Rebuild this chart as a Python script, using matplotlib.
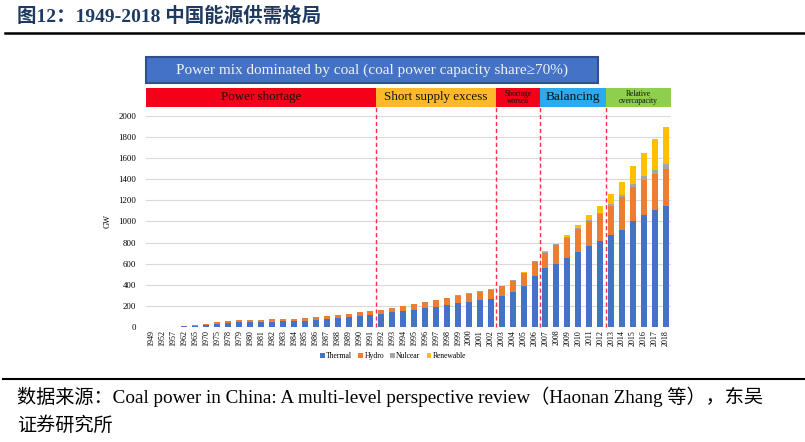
import matplotlib.pyplot as plt
from matplotlib.patches import Rectangle

plt.rcParams['font.family'] = ['Liberation Serif', 'Noto Sans CJK SC']

# ---------------------------------------------------------------- data (GW)
years = ['1949', '1952', '1957', '1962', '1965', '1970', '1975'] + [str(y) for y in range(1978, 2019)]

thermal = [1.69, 1.77, 3.62, 10.66, 12.06, 17.54, 30.98, 39.84, 43.11, 45.55, 47.24, 49.40,
           52.28, 54.52, 60.64, 66.28, 72.71, 82.80, 92.06, 101.84, 113.59, 124.30, 137.82,
           148.74, 162.94, 178.86, 192.41, 209.88, 223.43, 237.54, 253.01, 265.55, 289.77,
           329.48, 391.38, 484.05, 556.07, 601.32, 651.08, 709.67, 768.34, 819.68, 870.09,
           923.63, 1006.54, 1060.94, 1104.95, 1144.08]
hydro = [0.16, 0.19, 1.02, 2.38, 3.02, 6.24, 13.43, 17.28, 19.11, 20.32, 21.93, 22.96, 24.16,
         25.60, 26.41, 27.54, 30.19, 32.70, 34.58, 36.05, 37.88, 40.68, 44.59, 49.06, 52.18,
         55.58, 59.73, 65.07, 72.97, 79.35, 83.01, 86.07, 94.90, 105.24, 117.39, 130.29,
         148.23, 171.52, 196.29, 216.06, 232.98, 249.47, 280.44, 304.86, 319.54, 332.07,
         343.59, 352.26]
nuclear = [0] * 20 + [0.3, 0.3, 2.1] + [2.1] * 8 + [4.47, 6.19, 6.84, 6.85, 6.85, 8.85, 9.08,
           9.08, 10.82, 12.57, 12.57, 14.66, 20.08, 27.17, 33.64, 35.82, 44.66]
renewable = [0] * 29 + [0.34, 0.38, 0.47, 0.55, 0.83, 1.06, 2.07, 4.2, 8.39, 17.6, 29.58,
             49.3, 64.83, 92.41, 121.43, 172.93, 223.78, 294.25, 358.89]

series_names = ['Thermal', 'Hydro', 'Nulcear', 'Renewable']
series_colors = ['#4472C4', '#ED7D31', '#A5A5A5', '#FFC000']

# phases: (label, first year index - 0.5, last year index + 0.5, colour, font size)
phases = [('Power shortage', -0.5, 20.5, '#F40018', 9.4),
          ('Short supply excess', 20.5, 31.5, '#FDB92B', 9.4),
          ('Shortage\nworsen', 31.5, 35.5, '#F40018', 5.5),
          ('Balancing', 35.5, 41.5, '#2DA9EC', 9.6),
          ('Relative\novercapacity', 41.5, 47.5, '#8FCF4E', 5.5)]
phase_breaks = [20.5, 31.5, 35.5, 41.5]

# ---------------------------------------------------------------- figure
fig = plt.figure(figsize=(8.05, 4.42), dpi=100)
ax = fig.add_axes([0.1816, 0.2602, 0.6523, 0.4774])

x = list(range(len(years)))
bottom = [0] * len(years)
for vals, name, col in zip([thermal, hydro, nuclear, renewable], series_names, series_colors):
    ax.bar(x, vals, 0.55, bottom=bottom, color=col, label=name, zorder=3)
    bottom = [b + v for b, v in zip(bottom, vals)]

ax.set_xlim(-0.5, 47.5)
ax.set_ylim(0, 2000)
ax.set_yticks(range(0, 2001, 200))
ax.grid(axis='y', color='#D9D9D9', linewidth=0.8, zorder=0)
ax.set_xticks(x)
ax.set_xticklabels(years, rotation=90, fontsize=5.8)
ax.tick_params(axis='y', labelsize=6.3, length=0, pad=7)
ax.tick_params(axis='x', length=0, pad=2)
for s in ax.spines.values():
    s.set_visible(False)
ax.set_ylabel('GW', fontsize=6, labelpad=5)

# dashed phase boundaries
trans = ax.get_xaxis_transform()
for b in phase_breaks:
    ax.plot([b, b], [0, 1.043], transform=trans, color='#FF2D4B', linestyle=(0, (3, 2)),
            linewidth=1.0, clip_on=False, zorder=4)

# phase banners
for label, x0, x1, col, fs in phases:
    ax.add_patch(Rectangle((x0, 1.043), x1 - x0, 0.09, transform=trans, facecolor=col,
                           edgecolor='none', clip_on=False))
    ax.text((x0 + x1) / 2, 1.088, label, transform=trans, ha='center', va='center',
            fontsize=fs, color='#111111', linespacing=0.85)

# top banner
ax.add_patch(Rectangle((-0.5, 1.155), 41.3, 0.125, transform=trans, facecolor='#4472C4',
                       edgecolor='#2F4F8F', linewidth=1.5, clip_on=False))
ax.text(-0.5 + 41.3 / 2, 1.218, 'Power mix dominated by coal (coal power capacity share\u226570%)',
        transform=trans, ha='center', va='center', fontsize=11, color='#EEF2FA')

ax.legend(loc='center', bbox_to_anchor=(0.47, -0.137), ncol=4, frameon=False, fontsize=5.5,
          handlelength=0.6, handleheight=0.6, handletextpad=0.2, columnspacing=0.8)

# title and source
fig.text(0.021, 0.962, '图12：1949-2018 中国能源供需格局', fontsize=14, fontweight='bold',
         color='#1F3A60', va='center')
fig.add_artist(plt.Line2D([0.006, 1.0], [0.925, 0.925], color='black', linewidth=1.8))
fig.add_artist(plt.Line2D([0.004, 1.0], [0.142, 0.142], color='black', linewidth=1.5))
fig.text(0.021, 0.103, '数据来源：Coal power in China: A multi-level perspective review（Haonan Zhang 等），东吴',
         fontsize=13.8, va='center', color='black')
fig.text(0.021, 0.038, '证券研究所', fontsize=13.8, va='center', color='black')

fig.savefig('out.png', dpi=100)
